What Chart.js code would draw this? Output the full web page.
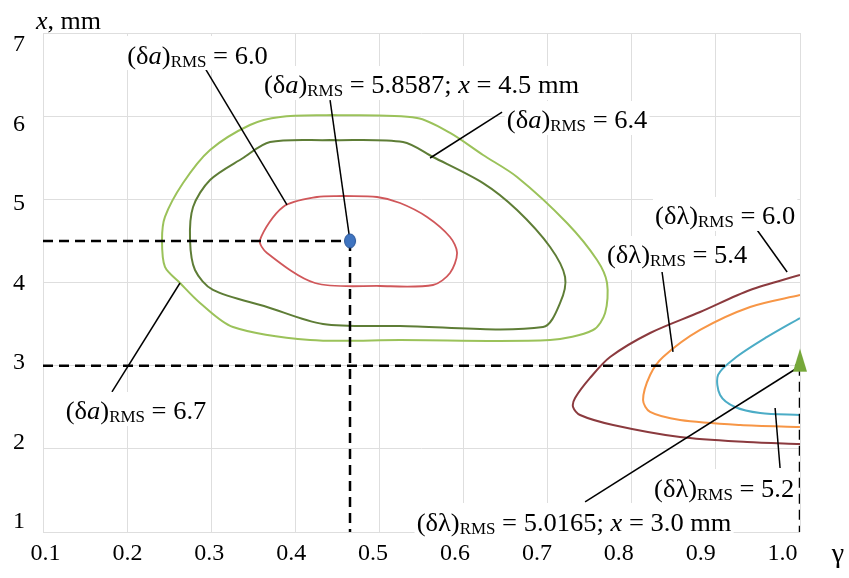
<!DOCTYPE html>
<html>
<head>
<meta charset="utf-8">
<script src="https://cdn.jsdelivr.net/npm/chart.js@4.4.1/dist/chart.umd.min.js"></script>
<style>html,body{margin:0;padding:0;background:#fff}canvas{display:block}</style>
</head>
<body>
<canvas id="c" width="849" height="578"></canvas>
<script>
// ---- tick labels ----
const gammaTicks = [0.1, 0.2, 0.3, 0.4, 0.5, 0.6, 0.7, 0.8, 0.9, 1.0];
const xTicks = [1, 2, 3, 4, 5, 6, 7];

// ---- contour series: [gamma, x(mm)] ----
const deltaA_67 = [[0.445,6.014],[0.5447,5.978],[0.584,5.798],[0.6232,5.533],[0.6636,5.269],[0.723,4.716],[0.7587,4.271],[0.7706,3.994],[0.7683,3.633],[0.754,3.429],[0.7029,3.309],[0.5245,3.309],[0.4175,3.309],[0.3259,3.465],[0.2867,3.754],[0.2629,3.994],[0.245,4.187],[0.2415,4.511],[0.245,4.788],[0.2665,5.196],[0.2986,5.593],[0.346,5.894],[0.382,5.99],[0.445,6.014]];
const deltaA_64 = [[0.4413,5.713],[0.528,5.689],[0.5637,5.509],[0.6232,5.196],[0.6636,4.872],[0.7029,4.427],[0.7207,4.066],[0.7148,3.754],[0.6945,3.465],[0.5245,3.477],[0.4329,3.501],[0.3663,3.706],[0.3021,3.910],[0.2807,4.150],[0.2748,4.511],[0.2784,4.908],[0.2986,5.233],[0.3378,5.497],[0.3699,5.689],[0.4413,5.713]];
const deltaA_60 = [[0.4567,5.04],[0.4971,5.028],[0.5245,4.956],[0.5566,4.788],[0.5839,4.547],[0.5923,4.355],[0.5839,4.114],[0.5637,3.970],[0.5007,3.958],[0.4234,3.994],[0.3663,4.355],[0.358,4.511],[0.3854,4.908],[0.4258,5.028],[0.4567,5.04]];
const deltaL_60 = [[1.0,4.09],[0.9407,3.910],[0.8812,3.645],[0.8218,3.393],[0.7742,3.104],[0.7504,2.852],[0.7326,2.611],[0.7302,2.503],[0.7385,2.407],[0.7778,2.287],[0.8574,2.142],[0.9371,2.082],[1.0,2.058]];
const deltaL_54 = [[1.0,3.850],[0.9407,3.706],[0.8812,3.429],[0.8372,3.104],[0.8218,2.888],[0.8134,2.587],[0.8218,2.443],[0.8574,2.347],[0.9288,2.287],[1.0,2.263]];
const deltaL_52 = [[1.0,3.573],[0.9609,3.345],[0.9228,3.092],[0.9026,2.888],[0.905,2.648],[0.9228,2.503],[0.9526,2.431],[1.0,2.407]];

// ---- optimum points ----
const optimumA = [[0.465, 4.5]];
const optimumL = [[1.0, 3.0]];

// ---- reference (dashed) lines ----
const guideA_h = [[0.1,4.5],[0.465,4.5]];
const guideA_v = [[0.465,4.5],[0.465,1.0]];
const guideL_h = [[0.1,3.0],[1.0,3.0]];
const guideL_v = [[1.0,3.0],[1.0,1.0]];

// ---- leader lines ----
const leaders = [
  [[0.2926,6.579],[0.3901,4.932]],
  [[0.4413,6.194],[0.465,4.5]],
  [[0.6458,6.05],[0.5602,5.497]],
  [[0.182,2.684],[0.2629,3.994]],
  [[0.949,4.631],[0.9847,4.126]],
  [[0.836,4.126],[0.849,3.165]],
  [[0.9763,1.770],[0.9704,2.491]],
  [[0.7445,1.361],[0.9966,2.972]]
];

const serif = '"Liberation Serif","Times New Roman",Times,serif';
const pts = a => a.map(p => ({x: p[0], y: p[1]}));

// custom marker images
function ellipseImg() {
  const c = document.createElement('canvas'); c.width = 14; c.height = 16;
  const g = c.getContext('2d');
  g.beginPath(); g.ellipse(7, 8, 5.5, 7, 0, 0, Math.PI * 2);
  g.fillStyle = '#3f74c0'; g.fill(); g.lineWidth = 1; g.strokeStyle = '#2a5597'; g.stroke();
  return c;
}
function triangleImg() {
  const c = document.createElement('canvas'); c.width = 16; c.height = 36;
  const g = c.getContext('2d');
  g.beginPath(); g.moveTo(8, 1); g.lineTo(15, 24); g.lineTo(1, 24); g.closePath();
  g.fillStyle = '#76a83a'; g.fill();
  return c;
}

const curve = (data, color, w) => ({data: pts(data), showLine: true, borderColor: color, borderWidth: w, pointRadius: 0, tension: 0.3, fill: false, order: 5});
const straight = (data, dash, w) => ({data: pts(data), showLine: true, borderColor: '#000', borderWidth: w, borderDash: dash, pointRadius: 0, tension: 0, fill: false, order: 3});

const datasets = [
  {data: pts(optimumA), pointStyle: ellipseImg(), pointRadius: 8, showLine: false, order: 0, clip: false},
  {data: pts(optimumL), pointStyle: triangleImg(), pointRadius: 8, showLine: false, order: 0, clip: false},
  straight(guideA_h, [10, 6], 2.5), straight(guideA_v, [10, 6], 2.5),
  straight(guideL_h, [10, 6], 2.5), straight(guideL_v, [10, 6], 2.5),
  ...leaders.map(l => straight(l, [], 1.5)),
  curve(deltaA_67, '#9bc25a', 2), curve(deltaA_64, '#5e7d36', 2), curve(deltaA_60, '#d0575a', 1.8),
  curve(deltaL_60, '#8b3a3e', 2), curve(deltaL_54, '#f79646', 2), curve(deltaL_52, '#4bacc6', 2)
];

// text annotations (rich text: i = italic, s = subscript)
const labels = [
  {x: 0.2837, y: 6.735, parts: [['(δ'], ['a','i'], [')'], ['RMS','s'], [' = 6.0']]},
  {x: 0.55,   y: 6.375, parts: [['(δ'], ['a','i'], [')'], ['RMS','s'], [' = 5.8587; '], ['x','i'], [' = 4.5 mm']]},
  {x: 0.735,  y: 5.954, parts: [['(δ'], ['a','i'], [')'], ['RMS','s'], [' = 6.4']]},
  {x: 0.2106, y: 2.455, parts: [['(δ'], ['a','i'], [')'], ['RMS','s'], [' = 6.7']]},
  {x: 0.911,  y: 4.80,  parts: [['(δλ)'], ['RMS','s'], [' = 6.0']]},
  {x: 0.8539, y: 4.331, parts: [['(δλ)'], ['RMS','s'], [' = 5.4']]},
  {x: 0.9098, y: 1.529, parts: [['(δλ)'], ['RMS','s'], [' = 5.2']]},
  {x: 0.7314, y: 1.12,  parts: [['(δλ)'], ['RMS','s'], [' = 5.0165; '], ['x','i'], [' = 3.0 mm']]}
];

function drawRich(ctx, parts, cx, cy, sx, box) {
  const segs = parts.map(([t, k]) => ({t, k, font: (k === 'i' ? 'italic ' : '') + (k === 's' ? '16px ' : '25px ') + serif}));
  let w = 0;
  segs.forEach(s => { ctx.font = s.font; s.w = ctx.measureText(s.t).width; w += s.w; });
  ctx.save();
  ctx.translate(cx, cy);
  ctx.scale(sx, 1);
  if (box) { ctx.fillStyle = '#fff'; ctx.fillRect(-w / 2 - 2, -19, w + 4, 34); }
  ctx.fillStyle = '#000';
  ctx.textBaseline = 'alphabetic';
  let x = -w / 2;
  segs.forEach(s => { ctx.font = s.font; ctx.fillText(s.t, x, s.k === 's' ? 11.5 : 8.5); x += s.w; });
  ctx.restore();
}

const annotate = {
  id: 'annotate',
  afterDatasetsDraw(chart) {
    const ctx = chart.ctx, xs = chart.scales.x, ys = chart.scales.y;
    labels.forEach(l => drawRich(ctx, l.parts, xs.getPixelForValue(l.x), ys.getPixelForValue(l.y), 1.06, true));
  },
  afterDraw(chart) {
    const ctx = chart.ctx;
    ctx.save();
    ctx.fillStyle = '#000';
    ctx.textBaseline = 'alphabetic';
    ctx.font = 'italic 26px ' + serif;
    ctx.fillText('x', 36, 29);
    const wx = ctx.measureText('x').width;
    ctx.font = '26px ' + serif;
    ctx.fillText(', mm', 36 + wx, 29);
    ctx.textAlign = 'center';
    ctx.font = '28px ' + serif;
    ctx.fillText('γ', 838, 562);
    ctx.restore();
  }
};

const tickFont = {family: serif, size: 24};
new Chart(document.getElementById('c'), {
  type: 'scatter',
  data: {datasets},
  options: {
    responsive: false, animation: false, devicePixelRatio: 1,
    layout: {padding: {top: 33, right: 49, left: 0, bottom: 0}},
    plugins: {legend: {display: false}, tooltip: {enabled: false}},
    scales: {
      x: {type: 'linear', min: 0.1, max: 1.0,
          afterBuildTicks: s => { s.ticks = gammaTicks.map(v => ({value: v})); },
          ticks: {display: false}, grid: {color: '#dedede', drawTicks: false}, border: {display: false},
          afterFit: s => { s.height = 0; }},
      xl: {type: 'linear', position: 'bottom', min: 0.09695, max: 1.02125,
           afterBuildTicks: s => { s.ticks = gammaTicks.map(v => ({value: v})); },
           ticks: {font: tickFont, color: '#000', padding: 7, maxRotation: 0, autoSkip: false, callback: v => Number(v).toFixed(1)},
           grid: {display: false, drawTicks: false}, border: {display: false},
           afterFit: s => { s.height = 46; }},
      y: {type: 'linear', min: 1, max: 7,
          afterBuildTicks: s => { s.ticks = xTicks.map(v => ({value: v})); },
          ticks: {display: false}, grid: {color: '#dedede', drawTicks: false}, border: {display: false},
          afterFit: s => { s.width = 0; }},
      yl: {type: 'linear', position: 'left', min: 0.874, max: 7.151,
           afterBuildTicks: s => { s.ticks = xTicks.map(v => ({value: v})); },
           ticks: {font: tickFont, color: '#000', padding: 18, callback: v => String(v)},
           grid: {display: false, drawTicks: false}, border: {display: false},
           afterFit: s => { s.width = 43; }}
    }
  },
  plugins: [annotate]
});
</script>
</body>
</html>
